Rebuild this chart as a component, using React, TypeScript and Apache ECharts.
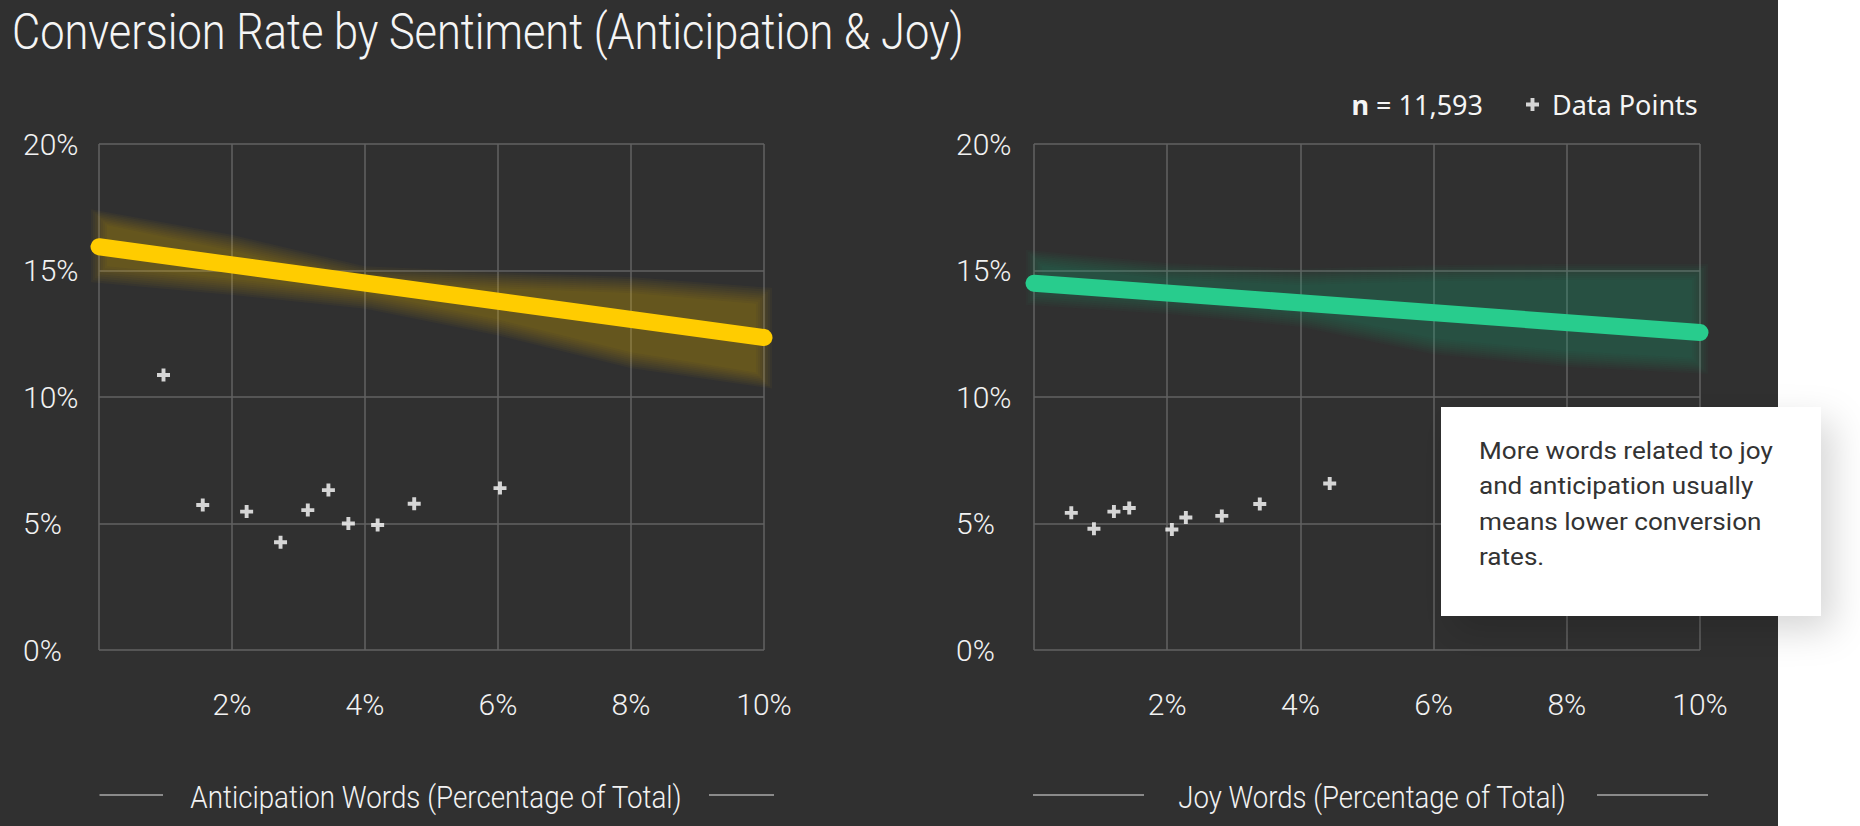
import React, { useEffect, useRef } from 'react';
import * as echarts from 'echarts';

// Share of anticipation words (%) and conversion rate (%) per bucket
const anticipationShare = [0.97, 1.56, 2.22, 2.73, 3.14, 3.45, 3.75, 4.19, 4.74, 6.03];
const anticipationConversion = [10.87, 5.73, 5.47, 4.26, 5.53, 6.32, 5.0, 4.94, 5.78, 6.4];

// Share of joy words (%) and conversion rate (%) per bucket
const joyShare = [0.56, 0.9, 1.2, 1.43, 2.07, 2.28, 2.82, 3.39, 4.44];
const joyConversion = [5.42, 4.79, 5.47, 5.61, 4.76, 5.24, 5.3, 5.77, 6.58];

// Fitted trend lines (endpoints) and their confidence bands
const trendX = [0, 10];
const anticipationTrend = [15.94, 12.35];
const joyTrend = [14.5, 12.55];

const bandX = [0, 2, 4, 6, 8, 10];
const anticipationUpper = [17.1, 16.1, 14.85, 14.62, 14.43, 14.0];
const anticipationLower = [14.85, 14.35, 13.8, 12.75, 11.45, 10.65];
const joyUpper = [15.5, 14.98, 14.75, 14.9, 14.95, 14.95];
const joyLower = [13.95, 13.6, 13.08, 12.0, 11.5, 11.23];

const xTickStep = 2;
const yTickStep = 5;

const sampleSize = '11,593';
const titleText = 'Conversion Rate by Sentiment (Anticipation & Joy)';
const anticipationAxisTitle = 'Anticipation Words (Percentage of Total)';
const joyAxisTitle = 'Joy Words (Percentage of Total)';
const noteLines = [
  'More words related to joy',
  'and anticipation usually',
  'means lower conversion',
  'rates.',
];

const YELLOW = '#FFCC00';
const GREEN = '#28CC8D';
const GRID_LINE = '#626262';
const CROSS = 'path://M4.2,0H7.8V4.2H12V7.8H7.8V12H4.2V7.8H0V4.2H4.2Z';

// Soft edge of the confidence bands: stacked translucent outlines
const BAND_SPREAD = [-8, -6, -4, -2, 0, 2, 4, 6, 8];

function fitScale(text: string, font: string, target: number): number {
  const ctx = document.createElement('canvas').getContext('2d');
  if (!ctx) return 1;
  ctx.font = font;
  const w = ctx.measureText(text).width;
  return w > 0 ? target / w : 1;
}

function bandRenderer(upper: number[], lower: number[], fill: string) {
  return (_params: any, api: any) => {
    const last = bandX.length - 1;
    const top = bandX.map((x, i) => api.coord([x, upper[i]]));
    const bottom = bandX.map((x, i) => api.coord([x, lower[i]]));
    const children = BAND_SPREAD.map((d) => {
      const shift = (p: number[], i: number, dy: number) => [
        p[0] + (i === 0 ? -d : i === last ? d : 0),
        p[1] + dy,
      ];
      const pts = top
        .map((p, i) => shift(p, i, -d))
        .concat(bottom.map((p, i) => shift(p, i, d)).reverse());
      return {
        type: 'polygon',
        shape: { points: pts },
        style: { fill },
      };
    });
    return { type: 'group', children };
  };
}

function xAxisFor(gridIndex: number) {
  return {
    type: 'value',
    gridIndex,
    min: 0,
    max: 10,
    interval: xTickStep,
    axisLine: { show: false },
    axisTick: { show: false },
    splitLine: { show: true, lineStyle: { color: GRID_LINE, width: 1.5 } },
    axisLabel: {
      showMinLabel: false,
      formatter: '{value}%',
      color: '#f2f2f2',
      fontFamily: 'Roboto',
      fontWeight: 300,
      fontSize: 30,
      margin: 39,
    },
  };
}

function yAxisFor(gridIndex: number, margin: number) {
  return {
    type: 'value',
    gridIndex,
    min: 0,
    max: 20,
    interval: yTickStep,
    axisLine: { show: false },
    axisTick: { show: false },
    splitLine: { show: true, lineStyle: { color: GRID_LINE, width: 1.5 } },
    axisLabel: {
      formatter: '{value}%',
      align: 'left',
      color: '#f2f2f2',
      fontFamily: 'Roboto',
      fontWeight: 300,
      fontSize: 30,
      margin,
    },
  };
}

export default function App() {
  const ref = useRef<HTMLDivElement>(null);

  useEffect(() => {
    document.body.style.margin = '0';
    if (!ref.current) return;
    const chart = echarts.init(ref.current, null, { renderer: 'svg' });

    const titleFont = '300 50px Roboto';
    const axisTitleFont = '300 32px Roboto';
    const noteFont = '400 24px Roboto';
    const titleScale = fitScale(titleText, titleFont, 952);
    const antTitleScale = fitScale(anticipationAxisTitle, axisTitleFont, 492);
    const joyTitleScale = fitScale(joyAxisTitle, axisTitleFont, 388);
    const noteScale = fitScale(noteLines[0], noteFont, 294);

    const axisTitle = (text: string, cx: number, scale: number) => ({
      type: 'text',
      x: cx,
      y: 797,
      scaleX: scale,
      style: {
        text,
        fill: '#f2f2f2',
        font: axisTitleFont,
        align: 'center',
        verticalAlign: 'middle',
      },
    });
    const rule = (x1: number, x2: number) => ({
      type: 'line',
      shape: { x1, y1: 795, x2, y2: 795 },
      style: { stroke: '#8a8a8a', lineWidth: 2 },
    });

    chart.setOption({
      animation: false,
      backgroundColor: '#303030',
      grid: [
        { left: 99, top: 144, width: 665, height: 506 },
        { left: 1034, top: 144, width: 666, height: 506 },
      ],
      xAxis: [xAxisFor(0), xAxisFor(1)],
      yAxis: [yAxisFor(0, 76), yAxisFor(1, 78)],
      legend: {
        data: [{ name: 'Data Points', icon: CROSS }],
        left: 1521,
        top: 86,
        itemWidth: 13,
        itemHeight: 13,
        selectedMode: false,
        textStyle: {
          color: '#f5f5f5',
          fontFamily: 'Noto Sans',
          fontSize: 27,
          padding: [0, 0, 0, 8],
        },
      },
      graphic: [
        { type: 'rect', shape: { x: 1778, y: 0, width: 82, height: 826 }, style: { fill: '#ffffff' }, z: 1 },
        {
          type: 'text',
          x: 12,
          y: 32,
          scaleX: titleScale,
          style: { text: titleText, fill: '#f5f5f5', font: titleFont, align: 'left', verticalAlign: 'middle' },
        },
        {
          type: 'text',
          x: 1483,
          y: 104.5,
          style: {
            text: '{b|n} = ' + sampleSize,
            fill: '#f5f5f5',
            font: '400 27px "Noto Sans"',
            align: 'right',
            verticalAlign: 'middle',
            rich: { b: { fontWeight: 'bold', fontFamily: 'Noto Sans', fontSize: 27, fill: '#f5f5f5' } },
          },
        },
        axisTitle(anticipationAxisTitle, 436, antTitleScale),
        rule(99.5, 163),
        rule(709, 774),
        axisTitle(joyAxisTitle, 1372, joyTitleScale),
        rule(1033, 1144),
        rule(1597, 1708),
        {
          type: 'rect',
          z: 100,
          shape: { x: 1441, y: 407, width: 380, height: 209 },
          style: {
            fill: '#ffffff',
            shadowBlur: 36,
            shadowOffsetX: 12,
            shadowOffsetY: 14,
            shadowColor: 'rgba(0,0,0,0.16)',
          },
        },
        {
          type: 'text',
          z: 101,
          x: 1479,
          y: 433,
          scaleX: noteScale,
          style: {
            text: noteLines.join('\n'),
            fill: '#333333',
            font: noteFont,
            lineHeight: 35.5,
            align: 'left',
            verticalAlign: 'top',
          },
        },
      ],
      series: [
        {
          type: 'custom',
          xAxisIndex: 0,
          yAxisIndex: 0,
          data: [[0, 0]],
          clip: false,
          silent: true,
          z: 1,
          renderItem: bandRenderer(anticipationUpper, anticipationLower, 'rgba(255,204,0,0.034)'),
        },
        {
          type: 'custom',
          xAxisIndex: 1,
          yAxisIndex: 1,
          data: [[0, 0]],
          clip: false,
          silent: true,
          z: 1,
          renderItem: bandRenderer(joyUpper, joyLower, 'rgba(40,204,141,0.032)'),
        },
        {
          type: 'line',
          xAxisIndex: 0,
          yAxisIndex: 0,
          data: trendX.map((x, i) => [x, anticipationTrend[i]]),
          symbol: 'none',
          clip: false,
          silent: true,
          z: 3,
          lineStyle: { color: YELLOW, width: 17, cap: 'round' },
        },
        {
          type: 'line',
          xAxisIndex: 1,
          yAxisIndex: 1,
          data: trendX.map((x, i) => [x, joyTrend[i]]),
          symbol: 'none',
          clip: false,
          silent: true,
          z: 3,
          lineStyle: { color: GREEN, width: 17, cap: 'round' },
        },
        {
          name: 'Data Points',
          type: 'scatter',
          xAxisIndex: 0,
          yAxisIndex: 0,
          symbol: CROSS,
          symbolSize: 13,
          itemStyle: { color: '#ffffff' },
          z: 5,
          data: anticipationShare.map((x, i) => [x, anticipationConversion[i]]),
        },
        {
          name: 'Data Points',
          type: 'scatter',
          xAxisIndex: 1,
          yAxisIndex: 1,
          symbol: CROSS,
          symbolSize: 13,
          itemStyle: { color: '#ffffff' },
          z: 5,
          data: joyShare.map((x, i) => [x, joyConversion[i]]),
        },
      ],
    });

    return () => chart.dispose();
  }, []);

  return <div ref={ref} style={{ width: 1860, height: 826 }} />;
}
